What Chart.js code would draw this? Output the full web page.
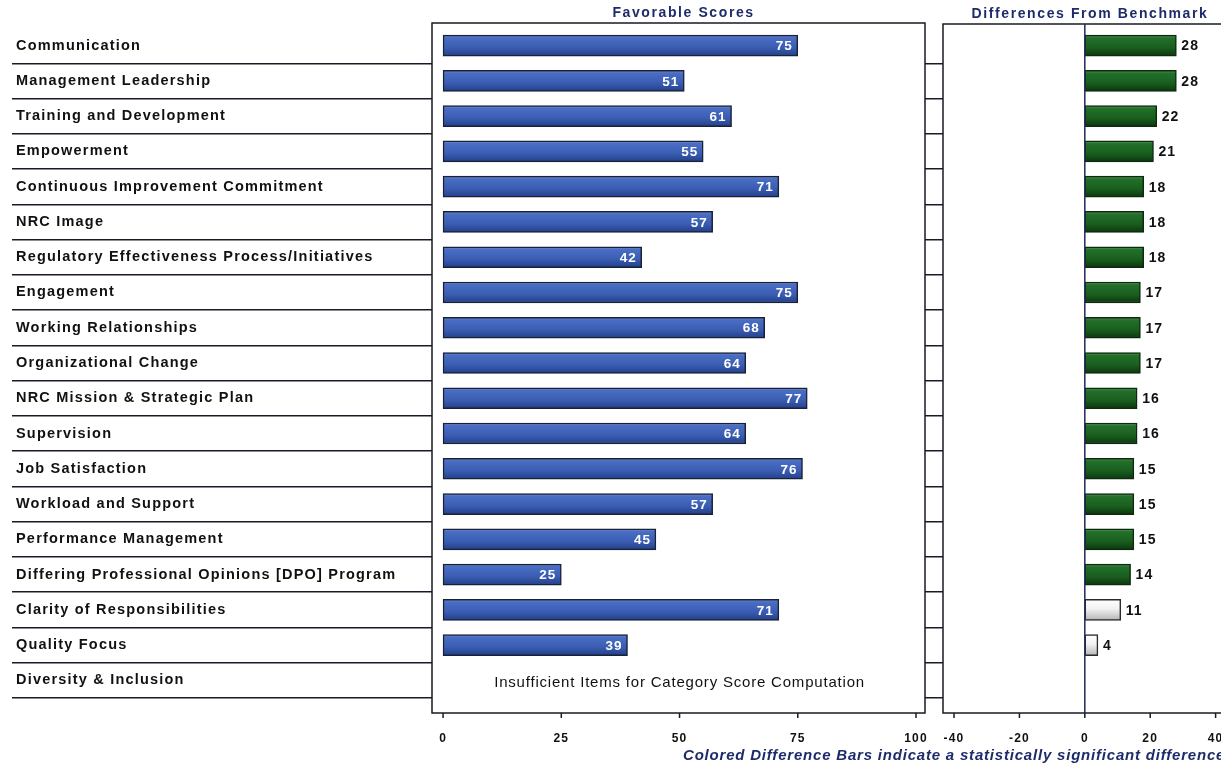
<!DOCTYPE html>
<html><head><meta charset="utf-8">
<script src="https://cdn.jsdelivr.net/npm/chart.js@4/dist/chart.umd.min.js"></script>
<style>
html,body{margin:0;padding:0;background:#fff;overflow:hidden;width:1221px;height:768px;position:relative;}
canvas{position:absolute;top:0;}
#c1{left:0;}
#c2{left:925px;}
#foot{position:absolute;left:683px;top:746px;white-space:nowrap;font:italic bold 15px 'Liberation Sans',Arial,sans-serif;color:#1d2b6b;letter-spacing:0.8px;}
</style></head><body>
<canvas id="c1" width="935" height="768"></canvas>
<canvas id="c2" width="325" height="768"></canvas>
<div id="foot">Colored Difference Bars indicate a statistically significant difference</div>
<script>
const categories = [
  'Communication','Management Leadership','Training and Development','Empowerment',
  'Continuous Improvement Commitment','NRC Image','Regulatory Effectiveness Process/Initiatives',
  'Engagement','Working Relationships','Organizational Change','NRC Mission & Strategic Plan',
  'Supervision','Job Satisfaction','Workload and Support','Performance Management',
  'Differing Professional Opinions [DPO] Program','Clarity of Responsibilities','Quality Focus',
  'Diversity & Inclusion'
];
const favorableScores = [75,51,61,55,71,57,42,75,68,64,77,64,76,57,45,25,71,39,null];
const benchmarkDifferences = [28,28,22,21,18,18,18,17,17,17,16,16,15,15,15,14,11,4,null];
const significant = [true,true,true,true,true,true,true,true,true,true,true,true,true,true,true,true,false,false,false];
const scoreTicks = [0,25,50,75,100];
const diffTicks = [-40,-20,0,20,40];
const panelTitles = ['Favorable Scores','Differences From Benchmark'];
const noScoreNote = 'Insufficient Items for Category Score Computation';

const FONT = "'Liberation Sans', Arial, sans-serif";
const LINE = '#1a1a26';
const NAVY = '#1d2b6b';
const BAR_H = 21;

const blueStops = [[0,'#7d9ad8'],[0.12,'#4a6ec4'],[0.6,'#3a5db2'],[1,'#223f88']];
const greenStops = [[0,'#5a985a'],[0.14,'#22702a'],[0.6,'#1a5e1e'],[1,'#0b360e']];
const greyStops = [[0,'#ffffff'],[0.45,'#f2f2f2'],[1,'#b4b4b4']];

function barGradient(ctx, stops) {
  const chart = ctx.chart;
  const ys = chart.scales && chart.scales.y;
  const y = ys ? ys.getPixelForValue(ctx.dataIndex) : NaN;
  if (!Number.isFinite(y)) return stops[2][1];
  const g = chart.ctx.createLinearGradient(0, y - BAR_H/2, 0, y + BAR_H/2);
  stops.forEach(s => g.addColorStop(s[0], s[1]));
  return g;
}
const sepColor = c => (c.index === 0 ? 'rgba(0,0,0,0)' : LINE);
const noPad = s => { s.height = 70; s.paddingLeft = 0; s.paddingRight = 0; };

const panel1 = {
  id: 'panel1',
  beforeDraw(chart) { chart.ctx.letterSpacing = '1.2px'; },
  afterDraw(chart) {
    const {ctx, chartArea: a, scales: {x, y}} = chart;
    const top = a.top - 5, bottom = a.bottom + 15;
    ctx.save();
    ctx.strokeStyle = LINE; ctx.lineWidth = 1.5;
    ctx.strokeRect(a.left, top, a.right - a.left, bottom - top);
    scoreTicks.forEach(v => {
      const px = x.getPixelForValue(v);
      ctx.beginPath(); ctx.moveTo(px, bottom); ctx.lineTo(px, bottom + 5); ctx.stroke();
    });
    ctx.letterSpacing = '1.6px';
    ctx.fillStyle = NAVY; ctx.font = `bold 14px ${FONT}`;
    ctx.textAlign = 'center'; ctx.textBaseline = 'middle';
    ctx.fillText(panelTitles[0], x.getPixelForValue(50) + 4, 13);
    ctx.letterSpacing = '0.8px';
    ctx.fillStyle = '#111'; ctx.font = `15px ${FONT}`;
    const missing = favorableScores.findIndex(v => v == null);
    ctx.fillText(noScoreNote, x.getPixelForValue(50), y.getPixelForValue(missing) + 2);
    ctx.letterSpacing = '1px';
    ctx.font = `bold 13.5px ${FONT}`; ctx.fillStyle = '#fff'; ctx.textAlign = 'right';
    chart.getDatasetMeta(0).data.forEach((el, i) => {
      if (favorableScores[i] == null) return;
      ctx.fillText(String(favorableScores[i]), el.x - 5, el.y + 1);
    });
    ctx.restore();
  }
};

const panel2 = {
  id: 'panel2',
  beforeDraw(chart) { chart.ctx.letterSpacing = '1.2px'; },
  afterDraw(chart) {
    const {ctx, chartArea: a, scales: {x, y}} = chart;
    const top = a.top - 4, bottom = a.bottom + 15;
    ctx.save();
    ctx.strokeStyle = LINE; ctx.lineWidth = 1.5;
    ctx.strokeRect(a.left, top, a.right - a.left, bottom - top);
    diffTicks.forEach(v => {
      const px = x.getPixelForValue(v);
      ctx.beginPath(); ctx.moveTo(px, bottom); ctx.lineTo(px, bottom + 5); ctx.stroke();
    });
    const z = x.getPixelForValue(0);
    ctx.strokeStyle = '#1f2a55'; ctx.lineWidth = 1.5;
    ctx.beginPath(); ctx.moveTo(z, top); ctx.lineTo(z, bottom); ctx.stroke();
    ctx.letterSpacing = '1.6px';
    ctx.fillStyle = NAVY; ctx.font = `bold 14px ${FONT}`;
    ctx.textAlign = 'center'; ctx.textBaseline = 'middle';
    ctx.fillText(panelTitles[1], 165, 14);
    ctx.letterSpacing = '1px';
    ctx.font = `bold 14px ${FONT}`; ctx.fillStyle = '#111'; ctx.textAlign = 'left';
    chart.getDatasetMeta(0).data.forEach((el, i) => {
      if (benchmarkDifferences[i] == null) return;
      ctx.fillText(String(benchmarkDifferences[i]), el.x + 5, el.y + 1);
    });
    ctx.restore();
  }
};

new Chart(document.getElementById('c1'), {
  type: 'bar',
  data: {
    labels: categories,
    datasets: [{
      data: favorableScores,
      barThickness: BAR_H,
      borderWidth: 1.5,
      borderColor: '#1a2036',
      borderSkipped: false,
      backgroundColor: c => barGradient(c, blueStops)
    }]
  },
  options: {
    indexAxis: 'y',
    responsive: false,
    animation: false,
    layout: { padding: { top: 28, left: 16, right: 10, bottom: 0 } },
    plugins: { legend: { display: false }, tooltip: { enabled: false } },
    scales: {
      x: {
        type: 'linear', min: -2.34, max: 101.9,
        afterBuildTicks: s => { s.ticks = scoreTicks.map(v => ({ value: v })); },
        afterFit: noPad,
        grid: { display: false }, border: { display: false },
        ticks: { color: '#111', padding: 25, font: { family: FONT, size: 12, weight: 'bold' } }
      },
      y: {
        type: 'category',
        afterFit: s => { s.width = 416; },
        border: { display: false },
        grid: { offset: true, drawOnChartArea: false, tickLength: 420, color: sepColor, lineWidth: 1.5 },
        ticks: { crossAlign: 'far', padding: 0, autoSkip: false, color: '#111', font: { family: FONT, size: 14.5, weight: 'bold' } }
      }
    }
  },
  plugins: [panel1]
});

new Chart(document.getElementById('c2'), {
  type: 'bar',
  data: {
    labels: categories,
    datasets: [{
      data: benchmarkDifferences,
      barThickness: BAR_H,
      borderWidth: 1.5,
      borderColor: c => (significant[c.dataIndex] ? '#0d2a0f' : '#2a2a2a'),
      borderSkipped: false,
      backgroundColor: c => barGradient(c, significant[c.dataIndex] ? greenStops : greyStops)
    }]
  },
  options: {
    indexAxis: 'y',
    responsive: false,
    animation: false,
    layout: { padding: { top: 28, left: 0, right: 10, bottom: 0 } },
    plugins: { legend: { display: false }, tooltip: { enabled: false } },
    scales: {
      x: {
        type: 'linear', min: -43.37, max: 47.46,
        afterBuildTicks: s => { s.ticks = diffTicks.map(v => ({ value: v })); },
        afterFit: noPad,
        grid: { display: false }, border: { display: false },
        ticks: { color: '#111', padding: 25, font: { family: FONT, size: 12, weight: 'bold' } }
      },
      y: {
        type: 'category',
        afterFit: s => { s.width = 18; },
        border: { display: false },
        grid: { offset: true, drawOnChartArea: false, tickLength: 18, color: sepColor, lineWidth: 1.5 },
        ticks: { display: false }
      }
    }
  },
  plugins: [panel2]
});
</script>
</body></html>
